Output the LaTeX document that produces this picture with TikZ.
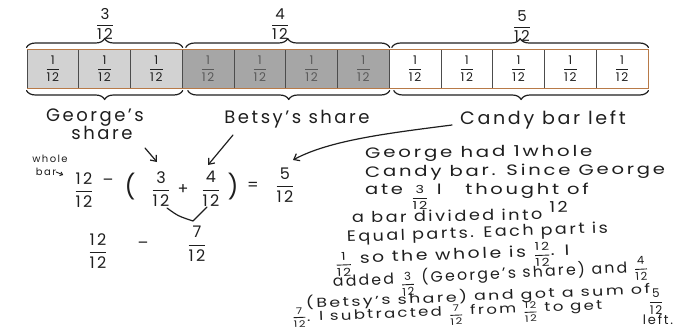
\documentclass[tikz,border=0pt]{standalone}
\usepackage{amsmath}
\usepackage{graphicx}
\usepackage{fontspec}
\setmainfont[LetterSpace=14]{Poppins}
\usetikzlibrary{arrows.meta,decorations.pathreplacing,calc}
\newcommand{\fr}[2]{\ensuremath{\genfrac{}{}{0.9pt}{0}{\text{#1}}{\text{#2}}}}
\newcommand{\pfr}[2]{{\fontsize{11}{11}\selectfont\fr{#1}{#2}}}
\newcommand{\sfr}[2]{{\fontsize{9}{9}\selectfont\fr{#1}{#2}}}
\newcommand{\hs}[2]{\scalebox{#1}[1]{#2}}
\definecolor{gA}{HTML}{D2D2D2}
\definecolor{gB}{HTML}{A6A6A6}
\definecolor{barbrown}{HTML}{B87A48}
\definecolor{ink}{HTML}{1E1E1E}
\begin{document}
\begin{tikzpicture}[x=1pt,y=-1pt,
  hand/.style={line width=1.2pt,line cap=round,line join=round,draw=ink},
  cell/.style={draw=black!70,line width=1pt,minimum width=51.75pt,minimum height=38pt,inner sep=0pt,font=\fontsize{12}{12}\selectfont},
  brc/.style={hand,decorate,decoration={brace,amplitude=9pt}},
  lbl/.style={text=ink,inner sep=0pt,font=\fontsize{18}{20}\selectfont},
  toplbl/.style={text=ink,inner sep=0pt,font=\fontsize{15}{16}\selectfont},
  eqn/.style={text=ink,inner sep=0pt,font=\fontsize{16}{17}\selectfont},
  para/.style={text=ink,inner sep=0pt,anchor=base west,font=\fontsize{15}{16}\selectfont},
  parasm/.style={para,font=\fontsize{13}{14}\selectfont},
  tiny/.style={text=ink,inner sep=0pt,font=\fontsize{10}{10}\selectfont},
  arr/.style={hand,-{Straight Barb[length=5pt,width=8pt]}}]
\useasboundingbox (0,0) rectangle (682,329);
% bar cells
\foreach \i in {1,...,12}{
  \pgfmathsetmacro{\cx}{27+51.75*(\i-0.5)}
  \ifnum\i<4 \def\fc{gA}\def\tc{ink}\else\ifnum\i<8 \def\fc{gB}\def\tc{black!65}\else\def\fc{white}\def\tc{ink}\fi\fi
  \node[cell,fill=\fc,text=\tc] (c\i) at (\cx,69) {\fr{1}{12}};
}
\draw[barbrown,line width=1.2pt] (c1.north west) -- (c12.north east) -- (c12.south east) -- (c1.south west);
% top braces
\draw[brc] ([yshift=2pt]c1.north west) -- ([yshift=2pt]c3.north east);
\draw[brc] ([xshift=4pt,yshift=2pt]c4.north west) -- ([yshift=2pt]c7.north east);
\draw[brc] ([xshift=3pt,yshift=2pt]c8.north west) -- ([yshift=2pt]c12.north east);
% bottom braces
\draw[brc] ([yshift=-2pt]c3.south east) -- ([yshift=-2pt]c1.south west);
\draw[brc] ([yshift=-2pt]c7.south east) -- ([xshift=6pt,yshift=-2pt]c4.south west);
\draw[brc] ([yshift=-2pt]c12.south east) -- ([xshift=5pt,yshift=-2pt]c8.south west);
% top labels
\node[toplbl] (t1) at (105,24) {\fr{3}{12}};
\node[toplbl] (t2) at (280,24) {\fr{4}{12}};
\node[toplbl] (t3) at (522,26) {\fr{5}{12}};
% bottom labels
\node[lbl] (gs) at (95,118) {George's};
\node[lbl] (gs2) at (102,133) {share};
\node[lbl] (bs) at (297,119) {Betsy's share};
\node[lbl] (cl) at (543,120) {\hs{1.06}{Candy bar left}};
% whole bar
\node[tiny] (wb1) at (50,159) {whole};
\node[tiny] (wb2) at (46,172) {bar};
\draw[hand,line width=0.9pt,-{Straight Barb[length=2.5pt,width=4pt]}] (wb2.east) -- ++(7,3);
% equation line 1
\node[eqn] (e1) at (84,190) {\fr{12}{12}};
\node[eqn] (m1) at (108,182) {–};
\node[eqn,font=\fontsize{24}{24}\selectfont] (lp) at (130,187) {(};
\node[eqn] (e2) at (161,189) {\fr{3}{12}};
\node[eqn] (pl) at (183,190) {+};
\node[eqn] (e3) at (211,189) {\fr{4}{12}};
\node[eqn,font=\fontsize{24}{24}\selectfont] (rp) at (233,187) {)};
\node[eqn] (eq) at (253,186) {=};
\node[eqn] (e4) at (285,185) {\fr{5}{12}};
% equation line 2
\node[eqn] (f1) at (98,251) {\fr{12}{12}};
\node[eqn] (m2) at (143,245) {–};
\node[eqn] (f2) at (197,244) {\fr{7}{12}};
% V
\coordinate (v1) at (167,208);
\coordinate (v2) at (193,221);
\coordinate (v3) at (207,207);
\draw[hand] (v1) .. controls (178,216) .. (v2) -- (v3);
% arrows
\coordinate (ga1) at (145,148);
\coordinate (ga2) at (157,162);
\draw[arr] (ga1) -- (ga2);
\coordinate (ba1) at (233,135);
\coordinate (ba2) at (208,165);
\draw[arr] (ba1) -- (ba2);
\coordinate (ca1) at (452,125);
\coordinate (ca2) at (293,160);
\draw[arr] (ca1) .. controls (390,133) and (330,140) .. (ca2);
% paragraph
\node[para,rotate=0.5] (p1) at (365,158) {\hs{1.32}{George had 1whole}};
\node[para,rotate=0.5] (p2) at (365,177) {\hs{1.31}{Candy bar. Since George}};
\node[para] (p3) at (365,194) {\hs{1.3}{ate \raisebox{-7pt}{\pfr{3}{12}} I \ \ thought of}};
\node[para,rotate=1] (p4) at (352,223) {\hs{1.18}{a bar divided into \raisebox{7pt}{12}}};
\node[para,rotate=2] (p5) at (347,242) {\hs{1.17}{Equal parts. Each part is}};
\node[para,rotate=2.2] (p6) at (335,264) {\hs{1.25}{\raisebox{-4pt}{\pfr{1}{12}} so the whole is \raisebox{-2pt}{\pfr{12}{12}}. I}};
\node[para,rotate=2.8] (p7) at (333,287) {\hs{1.05}{added \raisebox{-4pt}{\pfr{3}{12}} (George's share) and \pfr{4}{12}}};
\node[parasm,rotate=2.4] (p8) at (306,308) {\hs{1.34}{(Betsy's share) and got a sum of}};
\node[parasm,rotate=2.3] (p9) at (292,322) {\hs{1.27}{\raisebox{2pt}{\sfr{7}{12}}. I subtracted \raisebox{-2pt}{\sfr{7}{12}} from \raisebox{-2pt}{\sfr{12}{12}} to get}};
\node[tiny,font=\fontsize{12}{12}\selectfont] (p10) at (656,302) {\fr{5}{12}};
\node[text=ink,inner sep=0pt,font=\fontsize{13}{13}\selectfont] (p11) at (658,320) {left.};
\end{tikzpicture}
\end{document}
